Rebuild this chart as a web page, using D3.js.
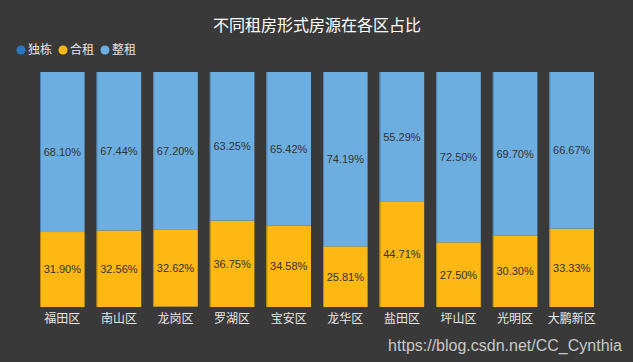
<!DOCTYPE html>
<html>
<head>
<meta charset="utf-8">
<script src="https://cdn.jsdelivr.net/npm/d3@7"></script>
<style>
  html, body { margin: 0; padding: 0; background: #393939; }
  svg { display: block; }
</style>
</head>
<body>
<div id="chart"></div>
<script>
'use strict';

var districts = ['福田区', '南山区', '龙岗区', '罗湖区', '宝安区', '龙华区', '盐田区', '坪山区', '光明区', '大鹏新区'];
var seriesNames = ['独栋', '合租', '整租'];
var duDong = [0, 0, 0.18, 0, 0, 0, 0, 0, 0, 0];
var heZu = [31.90, 32.56, 32.62, 36.75, 34.58, 25.81, 44.71, 27.50, 30.30, 33.33];
var zhengZu = [68.10, 67.44, 67.20, 63.25, 65.42, 74.19, 55.29, 72.50, 69.70, 66.67];

var CONFIG = {
    width: 633,
    height: 362,
    margin: { top: 72, right: 33, bottom: 55, left: 34 },
    colors: ['#2a76c0', '#fdb813', '#6daee0'],
    edge: ['#1d5a94', '#b88a14', '#4f86b5'],
    bg: '#393939'
};

var rows = districts.map(function (d, i) {
    return { name: d, '独栋': duDong[i], '合租': heZu[i], '整租': zhengZu[i] };
});

var svg = d3.select('#chart').append('svg')
    .attr('width', CONFIG.width)
    .attr('height', CONFIG.height);

svg.append('rect')
    .attr('width', CONFIG.width).attr('height', CONFIG.height)
    .attr('fill', CONFIG.bg);

var x = d3.scaleBand()
    .domain(districts)
    .range([CONFIG.margin.left, CONFIG.width - CONFIG.margin.right])
    .paddingInner(0.212)
    .paddingOuter(0.106);

var y = d3.scaleLinear()
    .domain([0, 100])
    .range([CONFIG.height - CONFIG.margin.bottom, CONFIG.margin.top]);

var stack = d3.stack().keys(seriesNames);
var layers = stack(rows);

var g = svg.append('g');
layers.forEach(function (layer, k) {
    var lg = g.append('g');
    lg.selectAll('rect.bar')
        .data(layer)
        .enter().append('rect')
        .attr('class', 'bar')
        .attr('x', function (d) { return x(d.data.name); })
        .attr('y', function (d) { return y(d[1]); })
        .attr('width', x.bandwidth())
        .attr('height', function (d) { return y(d[0]) - y(d[1]); })
        .attr('fill', CONFIG.colors[k]);
    // darker left edge, like a soft shadow
    lg.selectAll('rect.edge')
        .data(layer)
        .enter().append('rect')
        .attr('class', 'edge')
        .attr('x', function (d) { return x(d.data.name); })
        .attr('y', function (d) { return y(d[1]); })
        .attr('width', 1)
        .attr('height', function (d) { return y(d[0]) - y(d[1]); })
        .attr('fill', CONFIG.edge[k]);
    // value labels (skip the tiny 独栋 slices)
    lg.selectAll('text')
        .data(layer.filter(function (d) { return d[1] - d[0] >= 1; }))
        .enter().append('text')
        .attr('x', function (d) { return x(d.data.name) + x.bandwidth() / 2; })
        .attr('y', function (d) { return (y(d[0]) + y(d[1])) / 2; })
        .attr('dy', '0.35em')
        .attr('text-anchor', 'middle')
        .attr('font-family', '"Liberation Sans", Arial, sans-serif')
        .attr('font-size', 11)
        .attr('fill', '#333')
        .text(function (d) { return (d[1] - d[0]).toFixed(2) + '%'; });
});

// x axis labels
var axis = d3.axisBottom(x).tickSize(0).tickPadding(7);
var ax = svg.append('g')
    .attr('transform', 'translate(0,' + (CONFIG.height - CONFIG.margin.bottom) + ')')
    .call(axis);
ax.select('.domain').remove();
ax.selectAll('text')
    .attr('font-family', '"Noto Sans CJK SC", sans-serif')
    .attr('font-size', 12)
    .attr('fill', '#e6e6e6');

// title
svg.append('text')
    .attr('x', 317).attr('y', 31)
    .attr('text-anchor', 'middle')
    .attr('font-family', '"Noto Sans CJK SC", sans-serif')
    .attr('font-size', 16)
    .attr('fill', '#ffffff')
    .text('不同租房形式房源在各区占比');

// legend
var legend = svg.append('g').attr('transform', 'translate(14,50)');
var lx = 0;
seriesNames.forEach(function (name, k) {
    var item = legend.append('g').attr('transform', 'translate(' + lx + ',0)');
    item.append('circle')
        .attr('cx', 7).attr('cy', 0).attr('r', 4.5)
        .attr('fill', CONFIG.colors[k]);
    item.append('text')
        .attr('x', 14).attr('y', 0).attr('dy', '0.35em')
        .attr('font-family', '"Noto Sans CJK SC", sans-serif')
        .attr('font-size', 12)
        .attr('fill', '#e6e6e6')
        .text(name);
    lx += 42;
});

// watermark
svg.append('text')
    .attr('x', 622).attr('y', 351)
    .attr('text-anchor', 'end')
    .attr('font-family', '"Liberation Sans", Arial, sans-serif')
    .attr('font-size', 16)
    .attr('fill', '#c8c8c8')
    .text('https://blog.csdn.net/CC_Cynthia');
</script>
</body>
</html>
